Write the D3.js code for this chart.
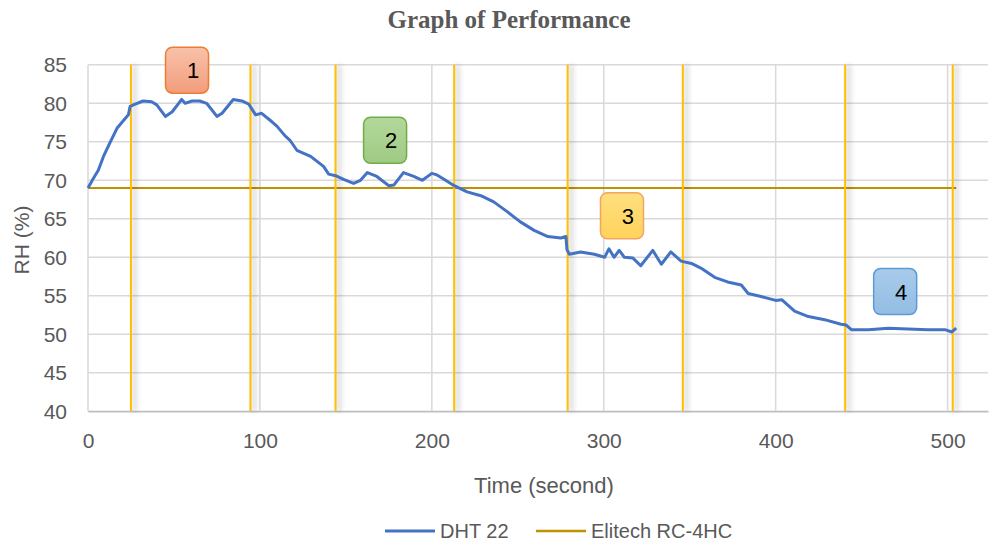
<!DOCTYPE html>
<html>
<head>
<meta charset="utf-8">
<script src="https://cdn.jsdelivr.net/npm/d3@7"></script>
<style>
  body { margin: 0; background: #fff; }
  text { font-family: "Liberation Sans", Arial, sans-serif; fill: #595959; }
</style>
</head>
<body>
<div id="chart"></div>
<script>
// DHT 22 readings: time (s) and relative humidity (%)
var dhtTime = [0, 3, 6, 9, 13, 17, 21.5, 23.5, 24.5, 27.5, 32, 37, 40, 45, 49, 54.5, 56.5, 60.5, 65, 69,
  75, 78, 84.5, 89.5, 93.5, 97.5, 101, 107, 110, 114.5, 117.5, 121.5, 129.5, 137, 140, 144, 149, 154.5,
  158.5, 162.5, 168, 175, 178, 183.5, 189.5, 194.5, 200, 203, 208, 213, 220.5, 228.5, 236, 244, 251.5,
  259.5, 267.5, 275, 278, 278.6, 280, 286.5, 294.5, 300.5, 303, 306, 309, 312, 317, 321.5, 328.5, 333.5,
  339, 345, 351, 356.5, 364.5, 372, 380, 384, 391.5, 400, 403.5, 411, 419, 428.5, 438, 441, 444, 454,
  465.5, 477, 488.5, 498.5, 502.5, 505];
var dhtRH = [69.0, 70.2, 71.3, 73.1, 75.0, 76.8, 78.0, 78.5, 79.6, 79.9, 80.3, 80.2, 79.8, 78.3, 78.9, 80.5, 80.0, 80.3, 80.3, 80.0,
  78.3, 78.7, 80.5, 80.3, 79.9, 78.5, 78.7, 77.6, 77.0, 75.8, 75.2, 73.9, 73.1, 71.8, 70.8, 70.6, 70.1, 69.6,
  70.0, 71.0, 70.5, 69.3, 69.4, 71.0, 70.5, 70.0, 70.9, 70.7, 70.0, 69.3, 68.5, 68.0, 67.2, 65.9, 64.6,
  63.5, 62.7, 62.5, 62.7, 61.0, 60.4, 60.7, 60.4, 60.0, 61.1, 60.0, 60.9, 60.0, 59.9, 58.9, 60.9, 59.1,
  60.7, 59.5, 59.2, 58.6, 57.4, 56.8, 56.4, 55.3, 54.9, 54.4, 54.5, 53.0, 52.3, 51.9, 51.3, 51.2, 50.6, 50.6,
  50.8, 50.7, 50.6, 50.6, 50.3, 50.8];

// Elitech RC-4HC reference reading
var eliTime = [0, 505];
var eliRH = [69, 69];

// phase markers (vertical lines) and phase labels
var markerTimes = [25, 94.5, 144, 213, 279, 346, 440.4, 503];
var phaseNames = ["1", "2", "3", "4"];
var phaseTime = [57.6, 172.8, 310.6, 469.5];
var phaseRH = [84.3, 75.2, 65.4, 55.55];
var phaseFill = [["#f8c2aa", "#f29d7c"], ["#b3d89b", "#9fca84"], ["#ffdf7e", "#ffd35c"], ["#a8cbea", "#93bde3"]];
var phaseStroke = ["#ed7d31", "#70ad47", "#f4a460", "#5b9bd5"];

var xTicks = [0, 100, 200, 300, 400, 500];
var yTicks = [40, 45, 50, 55, 60, 65, 70, 75, 80, 85];

var W = 989, H = 544;
var margin = {top: 64.8, right: 1, bottom: 132.7, left: 88};
var width = W - margin.left - margin.right,
    height = H - margin.top - margin.bottom;

var svg = d3.select("#chart")
  .append("svg")
    .attr("width", W)
    .attr("height", H);

var defs = svg.append("defs");
defs.append("filter")
    .attr("id", "blur")
    .attr("x", "-200%").attr("width", "500%")
  .append("feGaussianBlur")
    .attr("stdDeviation", 2.5);

phaseFill.forEach(function(c, i) {
  var g = defs.append("linearGradient")
      .attr("id", "grad" + i)
      .attr("x1", 0).attr("y1", 0).attr("x2", 0).attr("y2", 1);
  g.append("stop").attr("offset", "0%").attr("stop-color", c[0]);
  g.append("stop").attr("offset", "100%").attr("stop-color", c[1]);
});

var x = d3.scaleLinear().domain([0, 523.5]).range([0, width]);
var y = d3.scaleLinear().domain([40, 85]).range([height, 0]);

var g = svg.append("g")
    .attr("transform", "translate(" + margin.left + "," + margin.top + ")");

// gridlines
g.append("g")
  .selectAll("line")
  .data(yTicks)
  .enter().append("line")
    .attr("x1", 0).attr("x2", width)
    .attr("y1", function(d) { return y(d); })
    .attr("y2", function(d) { return y(d); })
    .style("stroke", "#d9d9d9")
    .style("stroke-width", 1.5);

g.append("g")
  .selectAll("line")
  .data(xTicks)
  .enter().append("line")
    .attr("x1", function(d) { return x(d); })
    .attr("x2", function(d) { return x(d); })
    .attr("y1", 0).attr("y2", height)
    .style("stroke", "#d9d9d9")
    .style("stroke-width", 1.5);

// axes
var xAxis = g.append("g")
    .attr("transform", "translate(0," + height + ")")
    .call(d3.axisBottom(x).tickValues(xTicks).tickSize(0).tickPadding(22));
xAxis.select(".domain").style("stroke", "#bfbfbf").style("stroke-width", 1.5);
xAxis.selectAll("text").style("font-size", "21px").style("fill", "#595959");

var yAxis = g.append("g")
    .call(d3.axisLeft(y).tickValues(yTicks).tickSize(0).tickPadding(21));
yAxis.select(".domain").remove();
yAxis.selectAll("text").style("font-size", "21px").style("fill", "#595959");

// Elitech line
var line = d3.line()
    .x(function(d) { return x(d[0]); })
    .y(function(d) { return y(d[1]); });

g.append("path")
    .datum(d3.zip(eliTime, eliRH))
    .attr("d", line)
    .style("fill", "none")
    .style("stroke", "#bf9000")
    .style("stroke-width", 2);

// phase markers with soft shadow
var markers = g.append("g")
  .selectAll("g")
  .data(markerTimes)
  .enter().append("g");

markers.append("rect")
    .attr("x", function(d) { return x(d) + 1; })
    .attr("y", 0)
    .attr("width", 5)
    .attr("height", height)
    .style("fill", "#000")
    .style("opacity", 0.13)
    .attr("filter", "url(#blur)");

markers.append("line")
    .attr("x1", function(d) { return x(d); })
    .attr("x2", function(d) { return x(d); })
    .attr("y1", 0).attr("y2", height)
    .style("stroke", "#ffc000")
    .style("stroke-width", 2);

// DHT 22 curve
g.append("path")
    .datum(d3.zip(dhtTime, dhtRH))
    .attr("d", line)
    .style("fill", "none")
    .style("stroke", "#4472c4")
    .style("stroke-width", 3)
    .style("stroke-linejoin", "round");

// phase labels
var labels = g.append("g")
  .selectAll("g")
  .data(phaseNames)
  .enter().append("g")
    .attr("transform", function(d, i) {
      return "translate(" + x(phaseTime[i]) + "," + y(phaseRH[i]) + ")";
    });

labels.append("rect")
    .attr("x", -21.5).attr("y", -23)
    .attr("width", 43).attr("height", 46)
    .attr("rx", 7)
    .style("fill", function(d, i) { return "url(#grad" + i + ")"; })
    .style("stroke", function(d, i) { return phaseStroke[i]; })
    .style("stroke-width", 1.5);

labels.append("text")
    .text(function(d) { return d; })
    .attr("x", 6)
    .attr("y", 8)
    .style("font-size", "22px")
    .style("fill", "#000")
    .style("text-anchor", "middle");

// titles
svg.append("text")
    .text("Graph of Performance")
    .attr("x", 509).attr("y", 28)
    .style("font-family", "'Liberation Serif', 'Times New Roman', serif")
    .style("font-weight", "bold")
    .style("font-size", "25px")
    .style("fill", "#595959")
    .style("text-anchor", "middle");

svg.append("text")
    .text("Time (second)")
    .attr("x", 544).attr("y", 493)
    .style("font-size", "22px")
    .style("text-anchor", "middle");

svg.append("text")
    .text("RH (%)")
    .attr("transform", "translate(29,240) rotate(-90)")
    .style("font-size", "21px")
    .style("text-anchor", "middle");

// legend
var legendItems = [["DHT 22", "#4472c4", 3, 385], ["Elitech RC-4HC", "#bf9000", 2.5, 536]];
var legend = svg.append("g")
  .selectAll("g")
  .data(legendItems)
  .enter().append("g");

legend.append("line")
    .attr("x1", function(d) { return d[3]; })
    .attr("x2", function(d) { return d[3] + 50; })
    .attr("y1", 531).attr("y2", 531)
    .style("stroke", function(d) { return d[1]; })
    .style("stroke-width", function(d) { return d[2]; });

legend.append("text")
    .text(function(d) { return d[0]; })
    .attr("x", function(d) { return d[3] + 55; })
    .attr("y", 538)
    .style("font-size", "20px");
</script>
</body>
</html>
